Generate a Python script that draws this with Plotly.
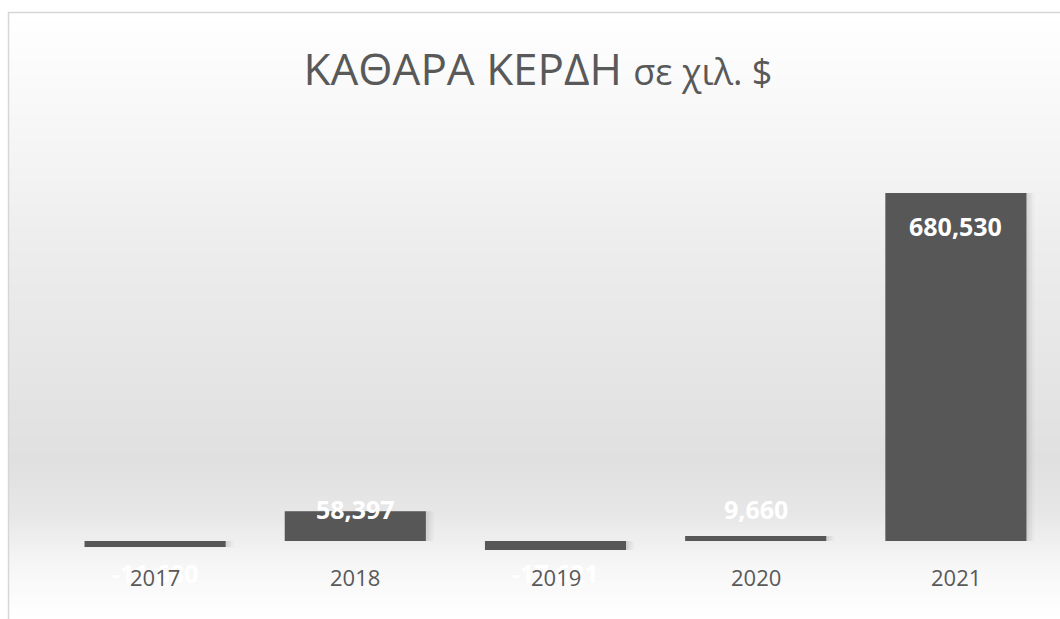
import plotly.graph_objects as go

# Net profit per year, thousands of dollars
years = ["2017", "2018", "2019", "2020", "2021"]
net_profit = [-11680, 58397, -17621, 9660, 680530]

# Canvas geometry (pixels)
FIG_W, FIG_H = 1060, 619
PLOT_L, PLOT_R = 55, 1056
PLOT_T, PLOT_B = 150, 555
BASE_PX = 541          # pixel row of the zero line
TOP_VALUE_PX = 193     # pixel row reached by the tallest bar

scale = (BASE_PX - TOP_VALUE_PX) / max(net_profit)   # px per unit
y_min = -(PLOT_B - BASE_PX) / scale
y_max = (BASE_PX - PLOT_T) / scale


def px_x(px):
    return (px - PLOT_L) / (PLOT_R - PLOT_L)


def px_y(py):
    return (PLOT_B - py) / (PLOT_B - PLOT_T)


def hexmix(c1, c2, t):
    a = [int(c1[i:i + 2], 16) for i in (1, 3, 5)]
    b = [int(c2[i:i + 2], 16) for i in (1, 3, 5)]
    return "#" + "".join(f"{round(a[k] + (b[k] - a[k]) * t):02x}" for k in range(3))


# Vertical background gradient stops: (pixel row, colour)
grad_stops = [(12, "#ffffff"), (110, "#f8f8f8"), (260, "#ececec"),
              (460, "#e0e0e0"), (510, "#e6e6e6"), (565, "#f6f6f6"), (619, "#ffffff")]


def grad_color(py):
    for (y0, c0), (y1, c1) in zip(grad_stops, grad_stops[1:]):
        if y0 <= py <= y1:
            return hexmix(c0, c1, (py - y0) / (y1 - y0))
    return grad_stops[-1][1]


shapes = []
step = 4
for py in range(12, FIG_H, step):
    shapes.append(dict(
        type="rect", xref="paper", yref="paper", layer="below",
        x0=px_x(9), x1=px_x(FIG_W + 5), y0=px_y(py + step + 0.5), y1=px_y(py),
        fillcolor=grad_color(py + step / 2), line=dict(width=0),
    ))
# Chart frame
shapes.append(dict(
    type="rect", xref="paper", yref="paper", layer="below",
    x0=px_x(8.5), x1=px_x(FIG_W + 20), y0=px_y(FIG_H + 20), y1=px_y(12.5),
    line=dict(color="#d6d6d6", width=1.5), fillcolor="rgba(0,0,0,0)",
))

fig = go.Figure()

# Soft drop shadow behind the bars
for dx, alpha in [(0.040, 0.025), (0.027, 0.035), (0.014, 0.045)]:
    fig.add_trace(go.Bar(
        x=years, y=net_profit, width=0.705, offset=-0.3525 + dx,
        marker=dict(color=f"rgba(0,0,0,{alpha})", line=dict(width=0)),
        hoverinfo="skip", showlegend=False,
    ))

fig.add_trace(go.Bar(
    x=years, y=net_profit, width=0.705,
    marker=dict(color="#575757", line=dict(width=0)),
    showlegend=False,
))

annotations = []
# Value labels: inside the bar end, kept clear of the zero line
for i, v in enumerate(net_profit):
    h = abs(v) * scale
    off = max(h - 33, 32)
    annotations.append(dict(
        x=i, y=0, xref="x", yref="y", text=f"{v:,}",
        showarrow=False, yanchor="middle", xanchor="center",
        yshift=off if v >= 0 else -off,
        font=dict(family="Open Sans", size=25, color="#ffffff", weight="bold"),
    ))
# Category labels drawn on top of the value labels
for i, yr in enumerate(years):
    annotations.append(dict(
        x=i, y=px_y(577), xref="x", yref="paper", text=yr,
        showarrow=False, yanchor="middle", xanchor="center",
        font=dict(family="Open Sans", size=22, color="#595959"),
    ))

fig.update_layout(
    width=FIG_W, height=FIG_H,
    margin=dict(l=PLOT_L, r=FIG_W - PLOT_R, t=PLOT_T, b=FIG_H - PLOT_B),
    paper_bgcolor="#ffffff", plot_bgcolor="rgba(0,0,0,0)",
    title=dict(
        text="ΚΑΘΑΡΑ ΚΕΡΔΗ <span style='font-size:36px'>σε χιλ. $</span>",
        x=538 / FIG_W, y=1 - 70 / FIG_H, xanchor="center", yanchor="middle",
        font=dict(family="Open Sans", size=44, color="#595959"),
    ),
    xaxis=dict(type="category", range=[-0.5, 4.5], showticklabels=False,
               showgrid=False, zeroline=False, showline=False, ticks=""),
    yaxis=dict(range=[y_min, y_max], visible=False),
    barmode="overlay",
    shapes=shapes, annotations=annotations,
)

fig.write_html("out.html")
